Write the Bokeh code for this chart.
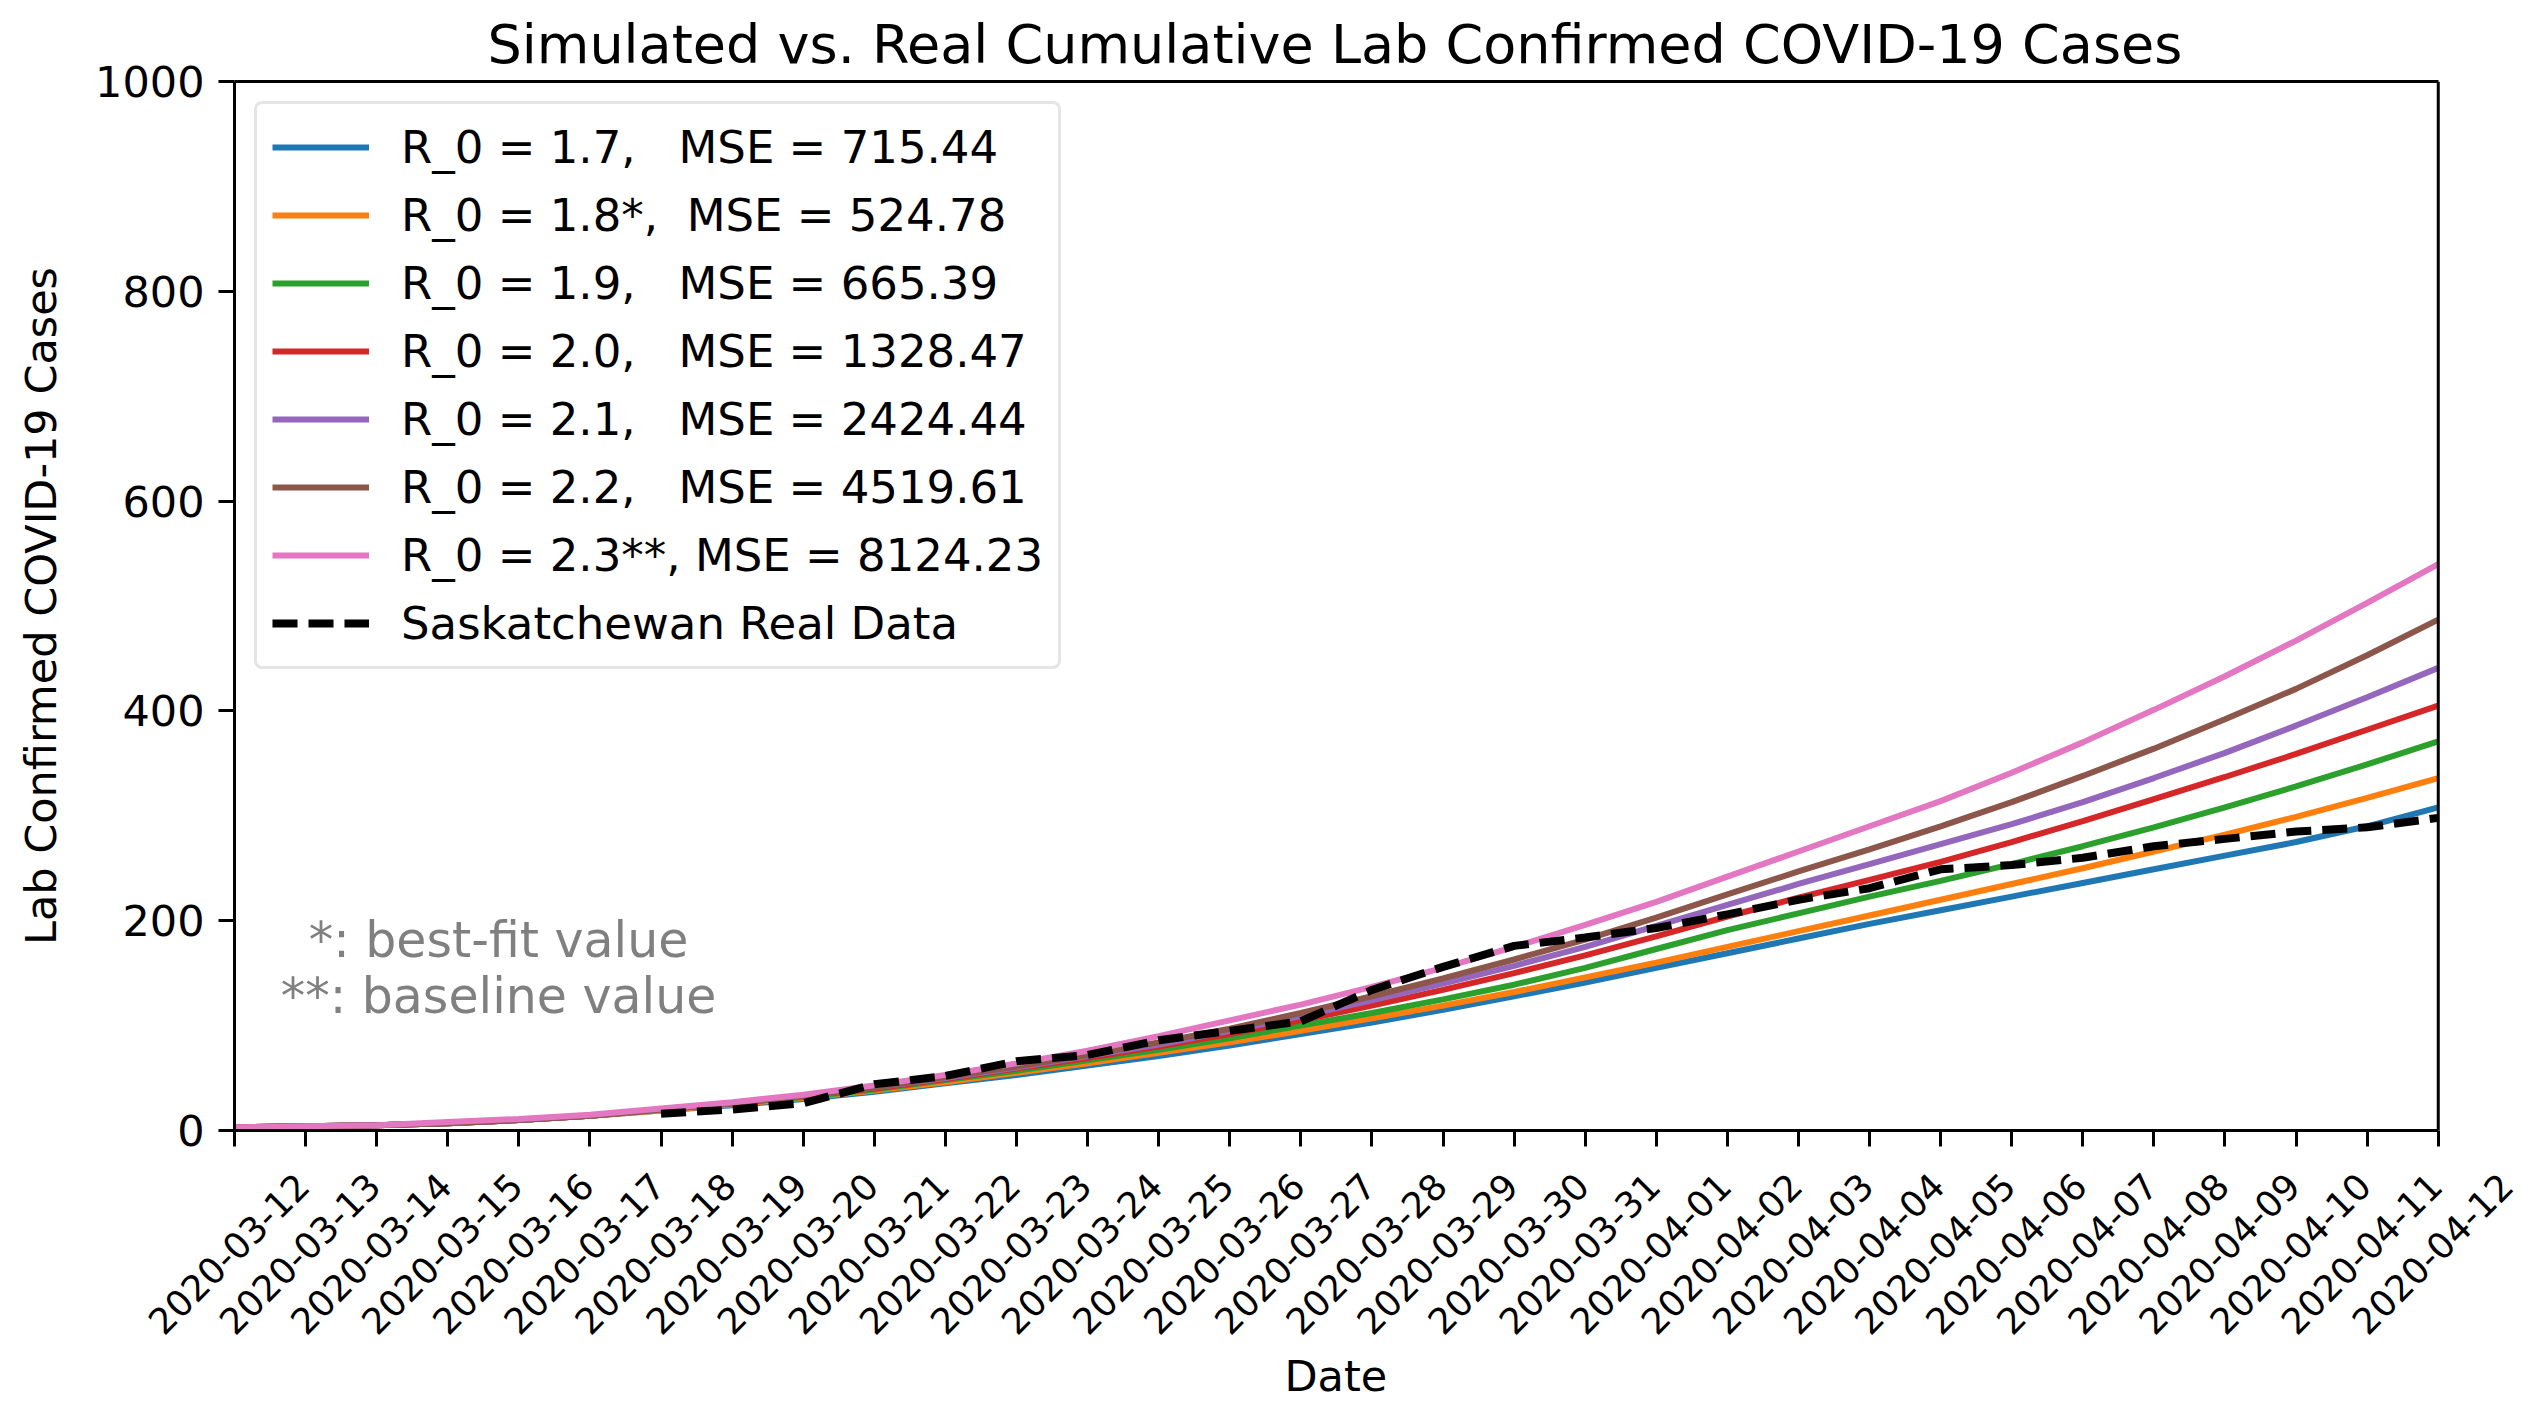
import math
from bokeh.plotting import figure
from bokeh.models import (Range1d, FixedTicker, Legend, LegendItem, Label, LinearAxis,
                          Span, Title)
from bokeh.embed import file_html
from bokeh.resources import INLINE

# ---------------- data ----------------
dates = ["2020-03-12", "2020-03-13", "2020-03-14", "2020-03-15", "2020-03-16",
         "2020-03-17", "2020-03-18", "2020-03-19", "2020-03-20", "2020-03-21",
         "2020-03-22", "2020-03-23", "2020-03-24", "2020-03-25", "2020-03-26",
         "2020-03-27", "2020-03-28", "2020-03-29", "2020-03-30", "2020-03-31",
         "2020-04-01", "2020-04-02", "2020-04-03", "2020-04-04", "2020-04-05",
         "2020-04-06", "2020-04-07", "2020-04-08", "2020-04-09", "2020-04-10",
         "2020-04-11", "2020-04-12"]

series_labels = ["R_0 = 1.7,   MSE = 715.44",
                 "R_0 = 1.8*,  MSE = 524.78",
                 "R_0 = 1.9,   MSE = 665.39",
                 "R_0 = 2.0,   MSE = 1328.47",
                 "R_0 = 2.1,   MSE = 2424.44",
                 "R_0 = 2.2,   MSE = 4519.61",
                 "R_0 = 2.3**, MSE = 8124.23"]
series_colors = ["#1f77b4", "#ff7f0e", "#2ca02c", "#d62728", "#9467bd", "#8c564b", "#e377c2"]

sim_r17 = [3, 4, 5, 7, 10, 14, 19, 24, 30, 37, 45, 53, 62, 71, 81, 92, 103, 115, 128, 141,
           155, 169, 183, 197, 210, 223, 236, 249, 262, 275, 290, 308]
sim_r18 = [3, 4, 5, 7, 10, 14, 19, 25, 31, 38, 46, 55, 64, 74, 84, 95, 107, 119, 132, 146,
           160, 175, 190, 205, 220, 235, 250, 266, 282, 299, 317, 336]
sim_r19 = [3, 4, 5, 7, 10, 14, 20, 26, 32, 39, 48, 57, 67, 77, 88, 100, 112, 125, 139, 155,
           173, 191, 207, 223, 238, 254, 271, 289, 308, 328, 349, 371]
sim_r20 = [3, 4, 5, 7, 10, 14, 20, 26, 33, 40, 49, 59, 69, 80, 92, 105, 119, 134, 150, 167,
           185, 204, 222, 239, 256, 275, 295, 316, 337, 359, 382, 405]
sim_r21 = [3, 4, 5, 7, 10, 14, 20, 26, 33, 41, 50, 60, 71, 82, 95, 109, 124, 140, 157, 175,
           195, 215, 235, 254, 273, 292, 313, 336, 360, 386, 413, 441]
sim_r22 = [3, 4, 5, 7, 10, 14, 20, 26, 33, 41, 51, 61, 72, 84, 97, 112, 128, 145, 163, 182,
           203, 225, 247, 268, 290, 313, 338, 364, 392, 421, 453, 487]
sim_r23 = [3, 4, 5, 8, 11, 15, 21, 27, 34, 43, 53, 64, 76, 90, 105, 120, 137, 155, 175, 196,
           218, 242, 266, 290, 314, 341, 370, 401, 433, 467, 503, 540]
sim_series = [sim_r17, sim_r18, sim_r19, sim_r20, sim_r21, sim_r22, sim_r23]

real_label = "Saskatchewan Real Data"
real_start = "2020-03-18"
real_cases = [16, 20, 26, 44, 52, 66, 72, 86, 95, 104, 134, 156, 176, 184, 193, 206,
              220, 231, 249, 253, 260, 271, 278, 285, 289, 298]

y_ticks = [0, 200, 400, 600, 800, 1000]
note_lines = ["*: best-fit value", "**: baseline value"]

# ---------------- figure ----------------
FONT = "DejaVu Sans"
xs = list(range(len(dates)))
real_x = list(range(dates.index(real_start), dates.index(real_start) + len(real_cases)))

# the rotated date labels are centred on their ticks, so the last one reaches past the
# right spine: the frame gets a little extra room (in days) to the right of the last date
shift = 0.96

p = figure(width=2528, height=1406, output_backend="svg", toolbar_location=None,
           x_range=Range1d(xs[0], xs[-1] + shift), y_range=Range1d(y_ticks[0], y_ticks[-1]),
           min_border_left=234, min_border_right=22, min_border_top=81,
           min_border_bottom=276,
           title="Simulated vs. Real Cumulative Lab Confirmed COVID-19 Cases")
p.background_fill_color = "white"
p.border_fill_color = "white"
p.outline_line_color = None
p.grid.visible = False

p.title.align = "left"
p.title.offset = 253
p.title.standoff = 12
p.title.text_font = FONT
p.title.text_font_size = "54px"
p.title.text_font_style = "normal"
p.title.text_color = "black"

xaxis = p.below[0]
yaxis = p.left[0]
for ax in (xaxis, yaxis):
    ax.axis_line_width = 3
    ax.axis_line_color = "black"
    ax.major_tick_line_width = 3
    ax.major_tick_line_color = "black"
    ax.major_tick_out = 16
    ax.major_tick_in = 0
    ax.minor_tick_line_color = None
    ax.axis_label_text_font = FONT
    ax.axis_label_text_font_size = "43px"
    ax.axis_label_text_font_style = "normal"
    ax.axis_label_text_color = "black"
    ax.major_label_text_font = FONT
    ax.major_label_text_color = "black"

yaxis.ticker = FixedTicker(ticks=y_ticks)
yaxis.major_label_text_font_size = "43px"
yaxis.major_label_standoff = 14
yaxis.axis_label = "Lab Confirmed COVID-19 Cases"
yaxis.axis_label_standoff = 26

# bottom spine + ticks (no labels)
xaxis.ticker = FixedTicker(ticks=xs)
xaxis.bounds = (xs[0], xs[-1])
xaxis.major_label_overrides = {i: "" for i in xs}
xaxis.major_label_text_font_size = "0px"
xaxis.major_label_standoff = 0

# date labels, rotated 45 deg and centred on their ticks
p.extra_x_ranges = {"labels": Range1d(xs[0] - shift, xs[-1])}
lab_axis = LinearAxis(x_range_name="labels", ticker=FixedTicker(ticks=xs),
                      major_label_overrides={i: d for i, d in zip(xs, dates)},
                      major_label_orientation=math.pi / 4,
                      major_label_text_font=FONT, major_label_text_font_size="36px",
                      major_label_text_color="black", major_label_standoff=33,
                      axis_line_color=None, major_tick_line_color=None,
                      minor_tick_line_color=None, major_tick_out=0, major_tick_in=0)
p.add_layout(lab_axis, "below")

# x axis title, centred under the dated part of the axis
p.add_layout(Title(text="Date", align="left", offset=1050, standoff=0,
                   text_font=FONT, text_font_size="43px", text_font_style="normal",
                   text_color="black"), "below")

# top spine
top_axis = LinearAxis(ticker=FixedTicker(ticks=[]), bounds=(xs[0], xs[-1]),
                      axis_line_width=3, axis_line_color="black",
                      major_tick_line_color=None, minor_tick_line_color=None,
                      major_tick_out=0, major_tick_in=0, major_label_standoff=0,
                      major_label_text_font_size="0px")
p.add_layout(top_axis, "above")

# right spine at the last date
p.add_layout(Span(location=xs[-1], dimension="height", line_color="black", line_width=3))

# lines
items = []
for ys, lab, col in zip(sim_series, series_labels, series_colors):
    r = p.line(xs, ys, line_color=col, line_width=6)
    items.append(LegendItem(label=lab, renderers=[r]))
rr = p.line(real_x, real_cases, line_color="black", line_width=8, line_dash="25 11")
items.append(LegendItem(label=real_label, renderers=[rr]))

legend = Legend(items=items, location="top_left", margin=20, padding=15, spacing=12,
                glyph_width=97, glyph_height=56, label_height=56, label_standoff=32,
                label_text_font=FONT, label_text_font_size="45px", label_text_color="black",
                border_line_color="#cccccc", border_line_width=3, border_radius=8,
                background_fill_color="white", background_fill_alpha=0.8)
p.add_layout(legend)

# notes
for txt, off in zip(note_lines, [190, 134]):
    p.add_layout(Label(x=264, y=off, x_units="screen", y_units="screen", text=txt,
                       text_align="center", text_baseline="middle", text_font=FONT,
                       text_font_size="49px", text_color="gray"))

open("out.html", "w").write(file_html(p, INLINE))
